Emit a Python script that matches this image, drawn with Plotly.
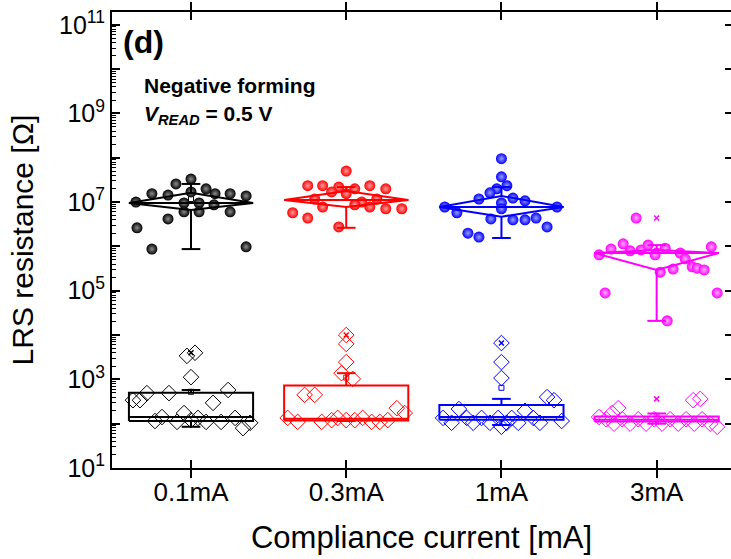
import plotly.graph_objects as go

# ---------------- data (log10 of resistance in ohm) ----------------
categories = ["0.1mA", "0.3mA", "1mA", "3mA"]
colors = ["#000000", "#FF0000", "#0000FF", "#FF00FF"]
tints = ["#8c8c8c", "#ff9c9c", "#9c9cff", "#ffa8ff"]

# upper group (filled spheres)
high_jit = [
    [-0.355, -0.348, -0.252, -0.252, -0.148, -0.148, -0.097, 0, 0, -0.045, 0.052, -0.045, 0.052, 0.097, 0.155, 0.148, 0.252, 0.252, 0.355, 0.355],
    [0, -0.248, -0.152, -0.048, 0.055, 0.152, 0.255, -0.094, 0, -0.203, 0.10, 0.197, -0.152, 0.055, 0.152, 0.255, 0.358, -0.345, -0.248, -0.048],
    [0, 0, 0.035, -0.03, -0.074, -0.145, 0.074, 0.152, -0.365, 0, 0, -0.287, -0.068, 0.074, 0.152, 0.223, 0.294, -0.216, -0.145, 0.358],
    [-0.132, -0.371, -0.294, -0.216, -0.171, -0.10, -0.055, -0.01, 0.152, 0.184, 0.106, 0.023, 0.229, 0.261, 0.306, 0.352, -0.332, 0.39, 0.068, 0.055],
]
high_log = [
    [7.00, 6.42, 7.19, 5.94, 7.16, 6.62, 7.41, 7.52, 7.23, 6.98, 6.98, 6.78, 6.78, 7.30, 7.19, 6.94, 7.19, 6.78, 7.14, 5.99],
    [7.70, 7.37, 7.37, 7.34, 7.30, 7.37, 7.30, 7.23, 7.19, 7.07, 7.00, 7.07, 6.89, 6.94, 6.89, 6.85, 6.85, 6.76, 6.64, 6.44],
    [7.98, 7.57, 7.37, 7.30, 7.21, 7.07, 7.09, 7.03, 6.89, 6.98, 6.85, 6.76, 6.62, 6.60, 6.60, 6.64, 6.44, 6.30, 6.21, 6.89],
    [6.64, 5.81, 5.94, 6.06, 5.90, 5.92, 6.03, 5.81, 5.85, 5.72, 5.49, 5.42, 5.54, 5.51, 5.47, 5.99, 4.95, 4.95, 4.32, 5.96],
]
high_q1 = [6.82, 6.89, 6.67, 5.47]
high_med = [6.98, 7.05, 6.89, 5.85]
high_q3 = [7.21, 7.25, 7.14, 5.92]
high_wlo = [5.94, 6.42, 6.19, 4.32]
high_whi = [7.41, 7.34, 7.34, 6.03]
high_mean = [7.07, 7.19, 7.00, 5.90]

# lower group (open diamonds)
low_jit = [
    [-0.026, 0.026, 0, -0.374, -0.329, -0.284, -0.142, 0.239, 0.142, -0.232, -0.187, -0.09, -0.045, 0, 0.045, 0.097, 0.194, 0.284, 0.335, 0.381],
    [0, 0, 0, -0.03, 0.042, -0.268, -0.203, 0.326, 0.377, -0.377, -0.313, -0.158, -0.094, -0.055, 0, 0.055, 0.106, 0.164, 0.216, 0.268],
    [0, 0, 0, 0.294, 0.339, -0.274, 0.152, -0.376, -0.321, -0.224, -0.182, -0.128, -0.074, -0.021, 0.034, 0.066, 0.108, 0.205, 0.248, 0.388, 0],
    [0.235, 0.281, -0.371, -0.287, -0.248, -0.325, -0.274, -0.222, -0.171, -0.119, -0.068, -0.016, 0.035, 0.087, 0.139, 0.19, 0.242, 0.293, 0.345, 0.39],
]
low_log = [
    [3.53, 3.60, 3.05, 2.53, 2.53, 2.69, 2.69, 2.76, 2.47, 2.06, 2.15, 2.04, 2.24, 2.08, 2.13, 2.04, 2.04, 2.13, 1.90, 2.02],
    [4.00, 3.80, 3.39, 3.14, 3.01, 2.65, 2.65, 2.35, 2.24, 2.13, 2.04, 2.04, 2.08, 2.13, 2.08, 2.08, 2.13, 2.04, 2.04, 2.08],
    [3.82, 3.39, 3.03, 2.60, 2.53, 2.33, 2.29, 2.13, 2.02, 2.13, 2.02, 2.13, 2.02, 2.13, 2.02, 2.13, 2.02, 2.13, 2.02, 2.06, 1.93],
    [2.53, 2.56, 2.15, 2.24, 2.35, 2.10, 2.00, 2.10, 2.00, 2.10, 2.00, 2.10, 2.00, 2.10, 2.00, 2.10, 2.00, 2.10, 2.00, 1.93],
]
low_q1 = [2.06, 2.07, 2.09, 2.05]
low_med = [2.15, 2.11, 2.15, 2.09]
low_q3 = [2.70, 2.86, 2.42, 2.16]
low_wlo = [1.93, 2.06, 1.97, 2.00]
low_whi = [2.76, 3.14, 2.56, 2.23]
low_mean = [2.72, 3.04, 2.81, 2.18]

y_ticks_exp = list(range(1, 12))

# ---------------- figure ----------------
FONT = "Arial, Liberation Sans, sans-serif"
HW = 0.40   # half box width (category units)
CW = 0.06   # half cap width
fig = go.Figure()


def p(v):
    return 10 ** v


def box_path(i, q1, med, q3, lo, hi, diamond):
    if diamond:
        xs = [i - HW, i, i + HW, i, i - HW, None, i - HW, i + HW]
        ys = [med, q3, med, q1, med, None, med, med]
    else:
        xs = [i - HW, i + HW, i + HW, i - HW, i - HW, None, i - HW, i + HW]
        ys = [q1, q1, q3, q3, q1, None, med, med]
    xs += [None, i, i, None, i - CW, i + CW, None, i, i, None, i - CW, i + CW]
    ys += [None, q3, hi, None, hi, hi, None, q1, lo, None, lo, lo]
    return xs, [None if v is None else p(v) for v in ys]


# mean squares and max crosses (below the filled spheres)
for i, c in enumerate(categories):
    col = colors[i]
    fig.add_trace(go.Scatter(
        x=[i, i], y=[p(high_mean[i]), p(low_mean[i])], mode="markers",
        marker=dict(symbol="square-open", size=5, color=col, line=dict(width=1, color=col)),
        showlegend=False, hoverinfo="skip"))
    fig.add_trace(go.Scatter(
        x=[i, i], y=[p(max(high_log[i])), p(max(low_log[i]))], mode="markers",
        marker=dict(symbol="x-thin-open", size=5, color=col, line=dict(width=1.5, color=col)),
        showlegend=False, hoverinfo="skip"))

for i, c in enumerate(categories):
    col = colors[i]
    fig.add_trace(go.Scatter(
        x=[i + j for j in high_jit[i]], y=[p(v) for v in high_log[i]], mode="markers",
        marker=dict(symbol="circle", size=11, color=col, line=dict(width=0),
                    gradient=dict(type="radial", color=tints[i])),
        showlegend=False, hoverinfo="skip"))
    fig.add_trace(go.Scatter(
        x=[i + j for j in low_jit[i]], y=[p(v) for v in low_log[i]], mode="markers",
        marker=dict(symbol="diamond-open", size=12, color=col, line=dict(width=1, color=col)),
        showlegend=False, hoverinfo="skip"))

for i, c in enumerate(categories):
    col = colors[i]
    xs, ys = box_path(i, high_q1[i], high_med[i], high_q3[i], high_wlo[i], high_whi[i], True)
    fig.add_trace(go.Scatter(x=xs, y=ys, mode="lines", line=dict(color=col, width=2),
                             showlegend=False, hoverinfo="skip"))
    xs, ys = box_path(i, low_q1[i], low_med[i], low_q3[i], low_wlo[i], low_whi[i], False)
    fig.add_trace(go.Scatter(x=xs, y=ys, mode="lines", line=dict(color=col, width=2),
                             showlegend=False, hoverinfo="skip"))

# dummy trace for the right-hand tick axis
fig.add_trace(go.Scatter(x=[None], y=[None], yaxis="y2", showlegend=False, hoverinfo="skip"))

ytickvals = [10 ** k for k in y_ticks_exp]
yticktext = [f"10<sup>{k}</sup>" if k % 2 == 1 else "" for k in y_ticks_exp]
YR = [1, 11.29]

fig.update_layout(
    width=731, height=559,
    margin=dict(l=112, r=0, t=12, b=91),
    paper_bgcolor="white", plot_bgcolor="white",
    font=dict(family=FONT, color="black"),
    showlegend=False,
    xaxis=dict(
        range=[-0.509, 3.479], tickmode="array", tickvals=[0, 1, 2, 3], ticktext=categories,
        ticks="inside", ticklen=8, tickwidth=1.5, tickcolor="black",
        showline=True, linewidth=2, linecolor="black", mirror="allticks",
        showgrid=False, zeroline=False,
        tickfont=dict(size=26, family=FONT),
        title=dict(text="Compliance current [mA]", font=dict(size=31, family=FONT), standoff=20),
    ),
    yaxis=dict(
        type="log", range=YR, tickmode="array", tickvals=ytickvals, ticktext=yticktext,
        ticks="inside", ticklen=8, tickwidth=1.5, tickcolor="black",
        minor=dict(ticks="inside", ticklen=4, tickwidth=1, tickcolor="black", dtick="D1", showgrid=False),
        showline=True, linewidth=2, linecolor="black", mirror=False,
        showgrid=False, zeroline=False,
        tickfont=dict(size=25, family=FONT),
        title=dict(text="LRS resistance [Ω]", font=dict(size=30, family=FONT), standoff=17),
    ),
    yaxis2=dict(
        type="log", range=YR, overlaying="y", side="right", anchor="x",
        tickmode="array", tickvals=ytickvals, ticks="inside", ticklen=6, tickwidth=1.5,
        tickcolor="black", showticklabels=False, showline=False, showgrid=False, zeroline=False,
    ),
    annotations=[
        dict(text="<b>(d)</b>", xref="paper", yref="paper", x=0.014, y=0.935,
             xanchor="left", yanchor="middle", showarrow=False, font=dict(size=32, family=FONT)),
        dict(text="<b>Negative forming</b>", xref="paper", yref="paper", x=0.048, y=0.838,
             xanchor="left", yanchor="middle", showarrow=False, font=dict(size=21, family=FONT)),
        dict(text="<b><i>V</i></b><sub><b><i>READ</i></b></sub><b> = 0.5 V</b>", xref="paper", yref="paper",
             x=0.048, y=0.775, xanchor="left", yanchor="middle", showarrow=False,
             font=dict(size=21, family=FONT)),
    ],
)

fig.write_html("out.html")
